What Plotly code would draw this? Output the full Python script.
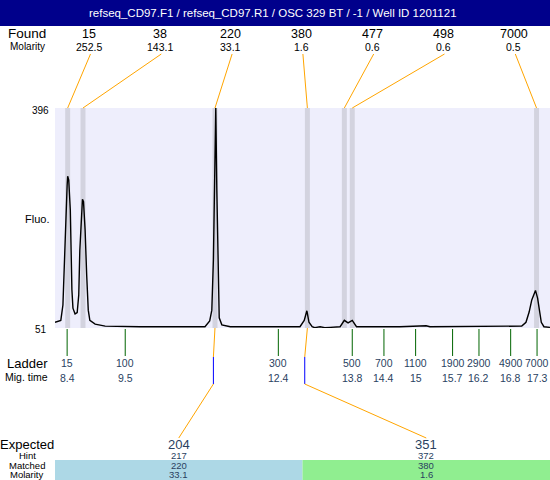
import plotly.graph_objects as go

W, H = 550, 480

# ---------------- data ----------------
title_text = "refseq_CD97.F1 / refseq_CD97.R1 / OSC 329 BT / -1 / Well ID 1201121"

found_size = ["15", "38", "220", "380", "477", "498", "7000"]
found_molarity = ["252.5", "143.1", "33.1", "1.6", "0.6", "0.6", "0.5"]
found_time = [8.41, 8.70, 11.20, 12.95, 13.65, 13.80, 17.29]

ladder_size = ["15", "100", "300", "500", "700", "1100", "1900", "2900", "4900", "7000"]
ladder_time = [8.4, 9.5, 12.4, 13.8, 14.4, 15, 15.7, 16.2, 16.8, 17.3]

expected_size = ["204", "351"]
hint_size = ["217", "372"]
matched_size = ["220", "380"]
matched_molarity = ["33.1", "1.6"]
matched_time = [11.20, 12.95]
hint_time = [11.17, 12.90]

trace_time = [8.17, 8.28, 8.32, 8.34, 8.37, 8.40, 8.41, 8.43, 8.46, 8.47, 8.49, 8.51,
              8.55, 8.59, 8.62, 8.64, 8.67, 8.69, 8.71, 8.74, 8.77, 8.80, 8.83, 8.93,
              9.12, 9.78, 10.72, 11.01, 11.10, 11.14, 11.17, 11.19, 11.205, 11.215, 11.235,
              11.26, 11.28, 11.33, 11.49, 12.62, 12.81, 12.89, 12.94, 12.95, 12.98, 13.04,
              13.09, 13.19, 13.28, 13.38, 13.57, 13.65, 13.72, 13.80, 13.88, 14.70, 15.20,
              15.27, 16.60, 16.79, 16.90, 17.01, 17.09, 17.15, 17.20, 17.27, 17.31, 17.35,
              17.38, 17.43, 17.545]
trace_fluo = [60, 63, 87, 142, 220, 275, 289, 283, 236, 173, 111, 82,
              73, 75, 103, 173, 228, 253, 249, 205, 134, 79, 63, 57,
              54, 53, 53, 53, 62, 79, 158, 283, 396, 396, 267,
              111, 67, 56, 53, 53, 53, 63, 78, 74, 60, 53,
              51.5, 53, 51.5, 52, 53, 63, 59, 63, 53, 53, 54.5,
              53, 53, 54, 53, 54, 60, 76, 95, 110, 98, 76,
              60, 53, 52]

fluo_range = [51, 396]
time_range = [8.17, 17.545]

# ---------------- helpers (layout) ----------------
FONT = "Liberation Sans, Arial, sans-serif"
PLOT_L, PLOT_R, PLOT_T, PLOT_B = 55, 550, 108, 328


def px(x):
    return x / W


def py(y):
    return 1 - y / H


def t_of_px(x):
    return time_range[0] + (x - PLOT_L) / (PLOT_R - PLOT_L) * (time_range[1] - time_range[0])


fig = go.Figure()

fig.add_trace(go.Scatter(x=trace_time, y=trace_fluo, mode="lines",
                         line=dict(color="black", width=1.4), hoverinfo="skip",
                         showlegend=False))

shapes = []
annotations = []


def text(x, y, s, size, xref="paper", color="black", family=FONT):
    annotations.append(dict(x=x if xref != "paper" else px(x), y=py(y), xref=xref, yref="paper",
                            text=s, showarrow=False, xanchor="center", yanchor="middle",
                            font=dict(size=size, color=color, family=family)))


# header bar
shapes.append(dict(type="rect", xref="paper", yref="paper", x0=0, x1=1, y0=py(26), y1=1,
                   fillcolor="#00008B", line=dict(width=0), layer="below"))
text(273, 13, title_text, 11.5, color="white")

# gray bands at found peaks
for t in found_time:
    shapes.append(dict(type="rect", xref="x", yref="y", x0=t - 0.047, x1=t + 0.047,
                       y0=fluo_range[0], y1=fluo_range[1], fillcolor="#D3D3DF",
                       line=dict(width=0), layer="below"))

# found row
text(27, 34, "Found", 13.5)
text(27, 47, "Molarity", 10)
for i, (s, m, t) in enumerate(zip(found_size, found_molarity, found_time)):
    cx = 89 + 70.8 * i
    text(cx, 34, s, 12.5)
    text(cx, 47, m, 10.5)
    shapes.append(dict(type="line", xref="x", yref="paper", x0=t_of_px(cx + 1.5), y0=py(54),
                       x1=t, y1=py(PLOT_T), line=dict(color="#FFA500", width=1)))

# y labels
text(40.5, 111, str(fluo_range[1]), 10)
text(40.5, 329, str(fluo_range[0]), 10)
text(37, 219, "Fluo.", 11)

# ladder
text(27, 363, "Ladder", 13)
text(26, 377, "Mig. time", 10.5)
for s, t in zip(ladder_size, ladder_time):
    shapes.append(dict(type="line", xref="x", yref="paper", x0=t, x1=t, y0=py(329), y1=py(356),
                       line=dict(color="#006400", width=1)))
    annotations.append(dict(x=t, y=py(363), xref="x", yref="paper", text=s, showarrow=False,
                            xanchor="center", yanchor="middle", font=dict(size=10.5, family=FONT)))
    annotations.append(dict(x=t, y=py(378), xref="x", yref="paper", text=f"{t:g}", showarrow=False,
                            xanchor="center", yanchor="middle", font=dict(size=10.5, family=FONT)))

# expected table
t_mid = (time_range[0] + time_range[1]) / 2
blocks = [(time_range[0], t_mid, "#ADD8E6"), (t_mid, time_range[1], "#90EE90")]
text(27, 444, "Expected", 13)
text(27, 455.5, "Hint", 9.5)
text(27, 465.5, "Matched", 9.5)
text(27, 474.5, "Molarity", 9.5)
for i, (x0, x1, col) in enumerate(blocks):
    shapes.append(dict(type="rect", xref="x", yref="paper", x0=x0, x1=x1, y0=0, y1=py(460),
                       fillcolor=col, line=dict(width=0), layer="below"))
    cx = (x0 + x1) / 2
    for yy, s, sz in [(444, expected_size[i], 13), (455.5, hint_size[i], 9.5),
                      (465.5, matched_size[i], 9.5), (474.5, matched_molarity[i], 9.5)]:
        annotations.append(dict(x=cx, y=py(yy), xref="x", yref="paper", text=s, showarrow=False,
                                xanchor="center", yanchor="middle", font=dict(size=sz, family=FONT)))
    mt, ht = matched_time[i], hint_time[i]
    shapes.append(dict(type="line", xref="x", yref="paper", x0=mt, y0=py(PLOT_B), x1=ht, y1=py(357),
                       line=dict(color="#FFA500", width=1)))
    shapes.append(dict(type="line", xref="x", yref="paper", x0=ht, y0=py(357), x1=ht, y1=py(384),
                       line=dict(color="#0000FF", width=1)))
    shapes.append(dict(type="line", xref="x", yref="paper", x0=ht, y0=py(384), x1=cx, y1=py(438),
                       line=dict(color="#FFA500", width=1)))

fig.update_layout(
    width=W, height=H, margin=dict(l=0, r=0, t=0, b=0, pad=0),
    paper_bgcolor="white", plot_bgcolor="#EEEEFC",
    xaxis=dict(domain=[px(PLOT_L), px(PLOT_R)], range=time_range, showgrid=False, zeroline=False,
               showticklabels=False, ticks="", showline=False, fixedrange=True),
    yaxis=dict(domain=[py(PLOT_B), py(PLOT_T)], range=fluo_range, showgrid=False, zeroline=False,
               showticklabels=False, ticks="", showline=False, fixedrange=True),
    shapes=shapes, annotations=annotations, showlegend=False,
)

fig.write_html("out.html", config={"displayModeBar": False},
               post_script="document.body.style.margin='0';document.body.style.overflow='hidden';")
